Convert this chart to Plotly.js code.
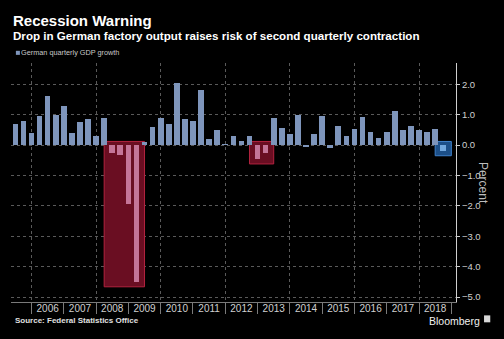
<!DOCTYPE html>
<html>
<head>
<meta charset="utf-8">
<script src="https://cdn.plot.ly/plotly-3.0.1.min.js"></script>
<style>
  html, body { margin: 0; padding: 0; background: #000; }
  #chart { width: 504px; height: 339px; }
</style>
</head>
<body>
<div id="chart"></div>
<script>
// ---- Data ----
const quarters = [
  "2005 Q2","2005 Q3","2005 Q4",
  "2006 Q1","2006 Q2","2006 Q3","2006 Q4",
  "2007 Q1","2007 Q2","2007 Q3","2007 Q4",
  "2008 Q1","2008 Q2","2008 Q3","2008 Q4",
  "2009 Q1","2009 Q2","2009 Q3","2009 Q4",
  "2010 Q1","2010 Q2","2010 Q3","2010 Q4",
  "2011 Q1","2011 Q2","2011 Q3","2011 Q4",
  "2012 Q1","2012 Q2","2012 Q3","2012 Q4",
  "2013 Q1","2013 Q2","2013 Q3","2013 Q4",
  "2014 Q1","2014 Q2","2014 Q3","2014 Q4",
  "2015 Q1","2015 Q2","2015 Q3","2015 Q4",
  "2016 Q1","2016 Q2","2016 Q3","2016 Q4",
  "2017 Q1","2017 Q2","2017 Q3","2017 Q4",
  "2018 Q1","2018 Q2","2018 Q3"
];
const gdpGrowth = [
  0.7, 0.8, 0.4,
  0.95, 1.6, 1.0, 1.3,
  0.4, 0.75, 0.85, 0.3,
  0.9, -0.27, -0.34, -1.93,
  -4.5, 0.1, 0.6, 0.9,
  0.7, 2.05, 0.85, 0.8,
  1.8, 0.2, 0.5, 0.03,
  0.3, 0.14, 0.3, -0.46,
  -0.25, 0.9, 0.57, 0.38,
  1.0, -0.05, 0.35, 0.95,
  -0.11, 0.63, 0.3, 0.52,
  0.92, 0.43, 0.22, 0.43,
  1.12, 0.5, 0.63, 0.5,
  0.43, 0.52, -0.19
];
const yearLabels = ["2006","2007","2008","2009","2010","2011","2012","2013","2014","2015","2016","2017","2018"];
const seriesName = "German quarterly GDP growth";
const highlightStart = ["2008 Q2", "2012 Q4", "2018 Q3"];
const highlightEnd   = ["2009 Q1", "2013 Q1", "2018 Q3"];
const highlightKind  = ["contraction", "contraction", "latest"];

// ---- Styles ----
const styles = {
  normalBar: "#7e95bb",
  contraction: { fill: "#6a0e22", line: "#b3233f", bar: "#c47598" },
  latest: { fill: "#1c4f88", line: "#3f82cc", bar: "#72a8de" }
};

// quarter-end position in decimal years
function qPos(label) {
  const [y, q] = label.split(" Q");
  return Number(y) + Number(q) * 0.25;
}
const xs = quarters.map(qPos);
const qStep = 0.25;

const barColors = xs.map(() => styles.normalBar);
const shapes = [];
highlightStart.forEach((s, i) => {
  const i0 = quarters.indexOf(s), i1 = quarters.indexOf(highlightEnd[i]);
  const st = styles[highlightKind[i]];
  let mn = 0;
  for (let k = i0; k <= i1; k++) { barColors[k] = st.bar; mn = Math.min(mn, gdpGrowth[k]); }
  shapes.push({
    type: "rect", xref: "x", yref: "y", layer: "between",
    x0: xs[i0] - qStep, x1: xs[i1] + qStep, y0: mn - 0.16, y1: 0.12,
    fillcolor: st.fill, line: { color: st.line, width: 1 }
  });
});

const firstYear = Number(yearLabels[0]);
const xRange = [2005.365, 2019.145];
const yRange = [-5.16, 2.70];

// legend swatch + bloomberg logo (paper coords)
shapes.push({ type: "rect", xref: "paper", yref: "paper", x0: 0.011, x1: 0.020, y0: 1.034, y1: 1.051,
  fillcolor: styles.normalBar, line: { width: 0 } });
shapes.push({ type: "rect", xref: "paper", yref: "paper", x0: 1.063, x1: 1.077, y0: -0.085, y1: -0.056,
  fillcolor: "#d8d8d8", line: { width: 0 } });

const traces = [
  {
    type: "bar", x: xs, y: gdpGrowth, name: seriesName,
    width: qStep * 0.7,
    marker: { color: barColors, line: { width: 0 } },
    showlegend: false, hoverinfo: "skip"
  },
  { type: "scatter", x: [], y: [], xaxis: "x2", showlegend: false, hoverinfo: "skip" }
];

const FONT = "Liberation Sans, Arial, sans-serif";
const layout = {
  width: 504, height: 339,
  paper_bgcolor: "#000", plot_bgcolor: "#000",
  margin: { l: 11, r: 48, t: 63, b: 37 },
  showlegend: false,
  bargap: 0,
  font: { family: FONT, color: "#cccccc" },
  xaxis: {
    range: xRange, fixedrange: true,
    tick0: firstYear, dtick: 2,
    ticks: "outside", ticklen: 11, tickcolor: "#7a7a7a", tickwidth: 1,
    showticklabels: false,
    showgrid: true, gridcolor: "#5a5a5a", griddash: "dot", gridwidth: 1,
    minor: { dtick: 1, ticks: "outside", ticklen: 11, tickcolor: "#7a7a7a", showgrid: false },
    showline: true, linecolor: "#7a7a7a", linewidth: 1,
    zeroline: false
  },
  xaxis2: {
    overlaying: "x", anchor: "y", side: "bottom",
    range: xRange, fixedrange: true,
    tickmode: "array",
    tickvals: yearLabels.map(y => Number(y) + 0.5),
    ticktext: yearLabels,
    ticks: "", ticklabelstandoff: -1, showgrid: false, showline: false, zeroline: false,
    tickfont: { family: FONT, size: 10, color: "#d0d0d0" }
  },
  yaxis: {
    side: "right", range: yRange, fixedrange: true,
    dtick: 1, tick0: 0, tickformat: ".1f",
    ticks: "outside", ticklen: 3, tickcolor: "#cfcfcf",
    showline: true, linecolor: "#cfcfcf", linewidth: 1,
    showgrid: true, gridcolor: "#5a5a5a", griddash: "dot", gridwidth: 1,
    zeroline: false,
    tickfont: { family: FONT, size: 9.5, color: "#d0d0d0" }
  },
  shapes: shapes,
  annotations: [
    { xref: "paper", yref: "paper", x: -0.001, y: 1.178, xanchor: "left", yanchor: "middle",
      text: "<b>Recession Warning</b>", showarrow: false,
      font: { family: FONT, size: 15, color: "#ffffff" } },
    { xref: "paper", yref: "paper", x: -0.001, y: 1.115, xanchor: "left", yanchor: "middle",
      text: "<b>Drop in German factory output raises risk of second quarterly contraction</b>", showarrow: false,
      font: { family: FONT, size: 11.6, color: "#ffffff" } },
    { xref: "paper", yref: "paper", x: 0.019, y: 1.042, xanchor: "left", yanchor: "middle",
      text: seriesName, showarrow: false,
      font: { family: FONT, size: 7.3, color: "#c8c8c8" } },
    { xref: "paper", yref: "paper", x: 1.062, y: 0.5, xanchor: "center", yanchor: "middle",
      text: "Percent", textangle: 90, showarrow: false,
      font: { family: FONT, size: 12, color: "#bdbdbd" } },
    { xref: "paper", yref: "paper", x: 0.004, y: -0.079, xanchor: "left", yanchor: "middle",
      text: "<b>Source: Federal Statistics Office</b>", showarrow: false,
      font: { family: FONT, size: 8, color: "#e0e0e0" } },
    { xref: "paper", yref: "paper", x: 1.057, y: -0.078, xanchor: "right", yanchor: "middle",
      text: "Bloomberg", showarrow: false, borderpad: 0,
      font: { family: FONT, size: 10.5, color: "#f0f0f0" } }
  ]
};

Plotly.newPlot("chart", traces, layout, { staticPlot: true, displayModeBar: false });
</script>
</body>
</html>
